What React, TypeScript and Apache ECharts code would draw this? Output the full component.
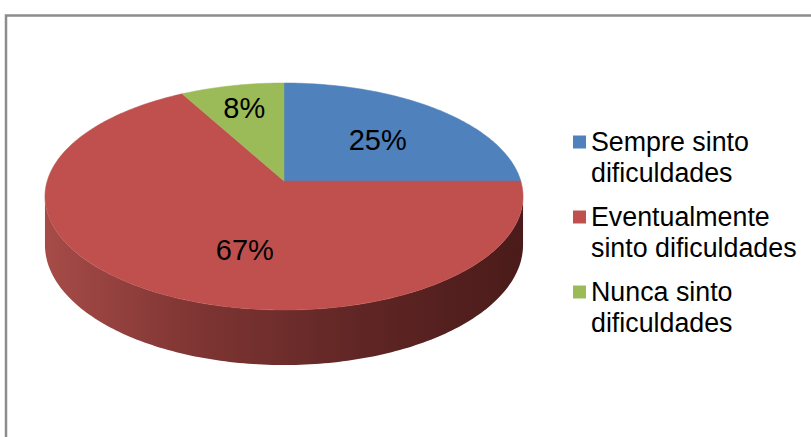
import React, { useEffect, useRef } from 'react';
import * as echarts from 'echarts';

const categories = ['Sempre sinto dificuldades', 'Eventualmente sinto dificuldades', 'Nunca sinto dificuldades'];
const legendLabels = ['Sempre sinto\ndificuldades', 'Eventualmente\nsinto dificuldades', 'Nunca sinto\ndificuldades'];
const values = [25, 67, 8];
const colors = ['#4F81BD', '#C0504D', '#9BBB59'];

// geometry of the perspective pie (style, not data)
const GEO = { cx: 284, cy: 181, r: 236.8, k: 111.4, p: 0.1366, depth: 47.5 };
const LABEL_PLACE = [{ r: 0.57, da: 2 }, { r: 0.59, da: -15.6 }, { r: 0.74, da: 0 }];
const FONT = '"Liberation Sans", Arial, Helvetica, sans-serif';
const LH = 31;

function project(aDeg: number, rf: number): [number, number, number] {
  const a = (aDeg * Math.PI) / 180;
  const u = rf * Math.sin(a);
  const v = -rf * Math.cos(a);
  const s = 1 / (1 - GEO.p * v);
  return [GEO.cx + GEO.r * u * s, GEO.cy + GEO.k * v * s, s];
}

const total = values.reduce((a, b) => a + b, 0);
const starts: number[] = [];
{
  let acc = 0;
  values.forEach((v) => {
    starts.push((acc / total) * 360);
    acc += v;
  });
}

function makeRenderItem(idx: number) {
  return (params: any, api: any) => {
    const val = api.value(0);
    const a0 = starts[idx];
    const a1 = a0 + (val / total) * 360;
    const children: any[] = [];
    // side wall (visible front part)
    const aL = (Math.acos(-GEO.p) * 180) / Math.PI;
    const aR = 360 - aL;
    const lo = Math.max(a0, aL);
    const hi = Math.min(a1, aR);
    if (hi > lo) {
      const top: number[][] = [];
      const bot: number[][] = [];
      const n = Math.max(2, Math.ceil(hi - lo));
      for (let i = 0; i <= n; i++) {
        const a = lo + ((hi - lo) * i) / n;
        const [x, y, s] = project(a, 1);
        top.push([x, y]);
        bot.push([x, y + GEO.depth * s]);
      }
      children.push({
        type: 'polygon',
        shape: { points: top.concat(bot.reverse()) },
        style: {
          fill: new echarts.graphic.LinearGradient(0, 0, 1, 0, [
            { offset: 0, color: '#A64B48' },
            { offset: 0.32, color: '#7E3533' },
            { offset: 0.68, color: '#5E2524' },
            { offset: 1, color: '#4A1B1A' },
          ]),
        },
        z2: 0,
      });
    }
    // top face
    const pts: number[][] = [[GEO.cx, GEO.cy]];
    const m = Math.max(2, Math.ceil(a1 - a0));
    for (let i = 0; i <= m; i++) {
      const a = a0 + ((a1 - a0) * i) / m;
      const [x, y] = project(a, 1);
      pts.push([x, y]);
    }
    children.push({
      type: 'polygon',
      shape: { points: pts },
      style: { fill: colors[idx], stroke: colors[idx], lineWidth: 0.5 },
      z2: 1,
    });
    // label
    const lp = LABEL_PLACE[idx];
    const [lx, ly] = project((a0 + a1) / 2 + lp.da, lp.r);
    children.push({
      type: 'text',
      style: {
        text: Math.round((val / total) * 100) + '%',
        x: lx,
        y: ly,
        fill: '#000',
        fontSize: 29,
        fontFamily: FONT,
        align: 'center',
        verticalAlign: 'middle',
      },
      z2: 2,
    });
    return { type: 'group', children };
  };
}

export default function App() {
  const ref = useRef<HTMLDivElement>(null);
  useEffect(() => {
    document.body.style.margin = '0';
    const chart = echarts.init(ref.current!, null, { renderer: 'svg' });
    chart.setOption({
      animation: false,
      backgroundColor: '#FFFFFF',
      color: colors,
      legend: {
        orient: 'vertical',
        left: 573,
        top: 142 - 1.5 * LH,
        padding: 0,
        itemWidth: 13,
        itemHeight: 13,
        itemGap: 75 - 3 * LH,
        icon: 'rect',
        selectedMode: false,
        data: categories,
        formatter: (name: string) => '\n' + legendLabels[categories.indexOf(name)],
        textStyle: {
          fontSize: 26.8,
          lineHeight: LH,
          color: '#000',
          fontFamily: FONT,
        },
      },
      graphic: [
        {
          type: 'rect',
          silent: true,
          z: -10,
          shape: { x: 6, y: 15.5, width: 1000, height: 1000 },
          style: { fill: 'none', stroke: '#8C8C8C', lineWidth: 2.5 },
        },
      ],
      series: categories.map((name, i) => ({
        type: 'custom',
        name,
        coordinateSystem: 'none',
        itemStyle: { color: colors[i] },
        data: [[values[i]]],
        renderItem: makeRenderItem(i),
      })),
    });
    return () => chart.dispose();
  }, []);
  return <div ref={ref} style={{ width: 811, height: 437 }} />;
}
